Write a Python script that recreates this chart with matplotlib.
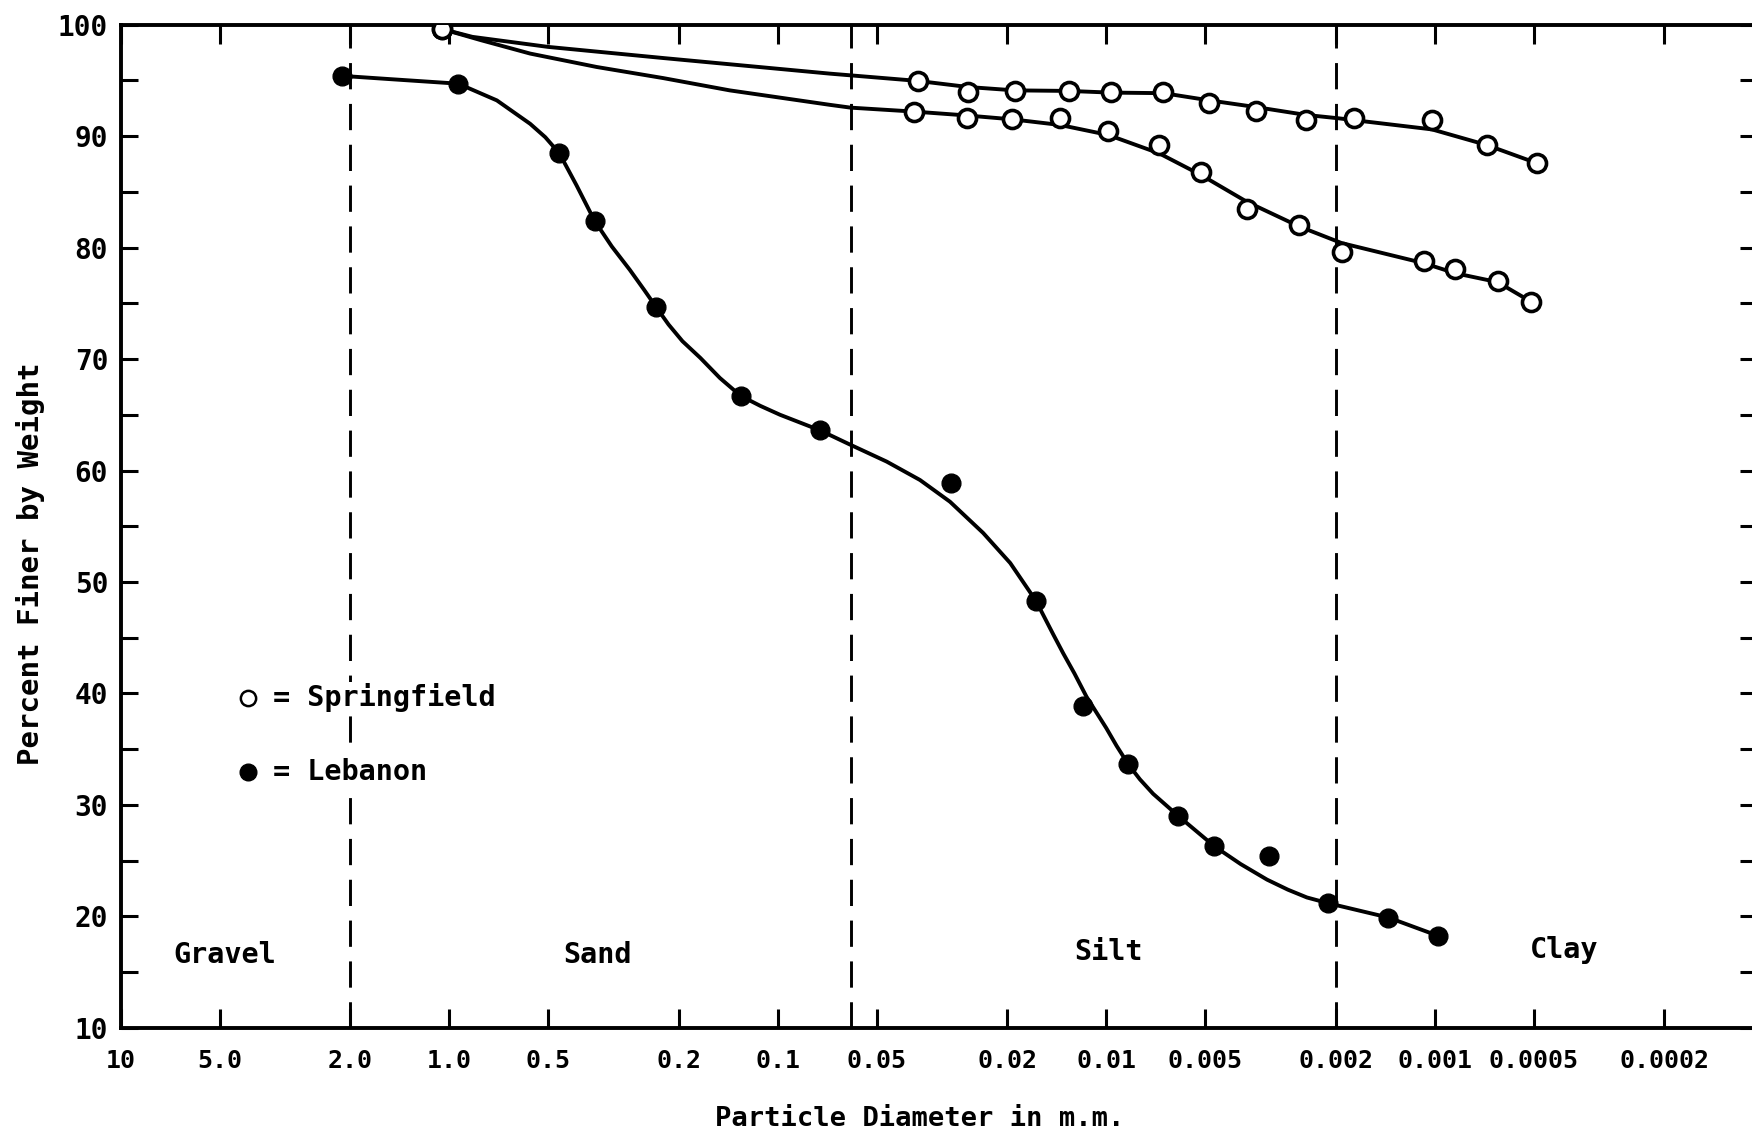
import matplotlib
matplotlib.use("Agg")
import matplotlib.pyplot as plt
from matplotlib.ticker import FixedLocator, FixedFormatter, NullFormatter

plt.rcParams['font.family'] = ['DejaVu Sans Mono', 'DejaVu Sans']
plt.rcParams['font.weight'] = 'bold'

# ---------------- data ----------------
# Lebanon measured points (particle diameter mm, percent finer)
leb_d = [2.12, 0.938, 0.462, 0.361, 0.235, 0.1297, 0.0743, 0.0297, 0.01636,
         0.01178, 0.00857, 0.00603, 0.00469, 0.00319, 0.00212, 0.001384, 0.000975]
leb_p = [95.4, 94.7, 88.45, 82.4, 74.7, 66.7, 63.6, 58.9, 48.3,
         38.9, 33.65, 29.0, 26.3, 25.4, 21.2, 19.9, 18.25]

# Lebanon hand-drawn fitted curve
leb_curve_d = [2.12, 1.5, 0.938, 0.716, 0.567, 0.51, 0.462, 0.41, 0.361, 0.32, 0.282,
               0.255, 0.235, 0.215, 0.195, 0.172, 0.15, 0.1297, 0.113, 0.0984, 0.0743,
               0.061, 0.0466, 0.0369, 0.0299, 0.0237, 0.0196, 0.01636, 0.0145, 0.01352,
               0.0125, 0.01148, 0.01, 0.0093, 0.00857, 0.0079, 0.0072, 0.00603, 0.00469,
               0.0039, 0.00324, 0.0028, 0.00245, 0.00212, 0.001384, 0.000975]
leb_curve_p = [95.4, 95.1, 94.7, 93.2, 91.1, 89.9, 88.45, 85.6, 82.4, 80.1, 78.0,
               76.2, 74.7, 73.1, 71.6, 70.1, 68.3, 66.7, 65.8, 65.0, 63.6,
               62.4, 60.8, 59.15, 57.2, 54.4, 51.7, 48.3, 45.3, 43.6,
               41.8, 39.7, 36.9, 35.3, 33.65, 32.3, 31.0, 29.0, 26.3,
               24.7, 23.3, 22.4, 21.7, 21.2, 19.9, 18.25]

# Springfield measured points (two samples)
spr_upper_d = [1.05, 0.0375, 0.0263, 0.019, 0.013, 0.0097, 0.0067, 0.00485,
               0.0035, 0.00247, 0.00176, 0.00102, 0.000695, 0.000488]
spr_upper_p = [99.6, 94.94, 93.93, 94.07, 94.07, 93.93, 93.93, 92.94,
               92.25, 91.44, 91.6, 91.44, 89.2, 87.56]
spr_lower_d = [1.05, 0.0386, 0.0266, 0.0193, 0.01384, 0.00986, 0.0069, 0.00514,
               0.00373, 0.00259, 0.00192, 0.00108, 0.000867, 0.000644, 0.000509]
spr_lower_p = [99.6, 92.19, 91.59, 91.5, 91.6, 90.46, 89.2, 86.8,
               83.43, 82.0, 79.6, 78.8, 78.05, 77.0, 75.14]

# Springfield fitted curves
spr_upper_curve_d = [1.05, 0.85, 0.5, 0.223, 0.0693, 0.0375, 0.0263, 0.019, 0.013, 0.0097,
                     0.0067, 0.00485, 0.0035, 0.00247, 0.00197, 0.00102, 0.000695, 0.000488]
spr_upper_curve_p = [99.6, 98.9, 98.0, 97.0, 95.6, 94.95, 94.4, 94.1, 94.05, 93.9,
                     93.85, 93.2, 92.6, 91.9, 91.6, 90.6, 89.2, 87.56]
spr_lower_curve_d = [1.05, 0.8, 0.567, 0.356, 0.223, 0.14, 0.0693, 0.060, 0.0386, 0.0266,
                     0.0193, 0.01384, 0.00986, 0.0069, 0.00514, 0.00373, 0.00259,
                     0.00192, 0.00108, 0.000867, 0.000644, 0.000509]
spr_lower_curve_p = [99.6, 98.6, 97.4, 96.2, 95.2, 94.1, 92.8, 92.55, 92.2, 91.85,
                     91.5, 91.0, 90.1, 88.45, 86.5, 84.1, 81.9,
                     80.4, 78.6, 77.7, 76.9, 75.14]

# class boundaries (mm)
boundaries = [2.0, 0.06, 0.002]
class_names = ["Gravel", "Sand", "Silt", "Clay"]
class_x = [4.83, 0.353, 0.00984, 0.000403]
class_y = [16.5, 16.5, 16.8, 17.0]

x_ticks = [10, 5, 2, 1, 0.5, 0.2, 0.1, 0.05, 0.02, 0.01, 0.005, 0.002, 0.001, 0.0005, 0.0002]
x_tick_labels = ["10", "5.0", "2.0", "1.0", "0.5", "0.2", "0.1", "0.05", "0.02", "0.01",
                 "0.005", "0.002", "0.001", "0.0005", "0.0002"]
y_ticks = [10, 20, 30, 40, 50, 60, 70, 80, 90, 100]
y_minor = [15, 25, 35, 45, 55, 65, 75, 85, 95]

# ---------------- figure ----------------
W, H = 1752, 1135
fig = plt.figure(figsize=(W / 100, H / 100), dpi=100, facecolor='white')
left_px, right_px, top_px, bot_px = 120.7, 1757.0, 24.6, 1027.9
ax = fig.add_axes([left_px / W, 1 - bot_px / H, (right_px - left_px) / W, (bot_px - top_px) / H])

ax.set_xscale('log')
ax.set_xlim(10, 1.045e-4)
ax.set_ylim(10, 100)

lw_curve = 2.8
for b in boundaries:
    ax.axvline(b, color='black', lw=2.1, dashes=(9, 5), zorder=1)

ax.plot(leb_curve_d, leb_curve_p, color='black', lw=lw_curve, zorder=2,
        solid_joinstyle='round')
ax.plot(spr_upper_curve_d, spr_upper_curve_p, color='black', lw=lw_curve, zorder=2,
        solid_joinstyle='round')
ax.plot(spr_lower_curve_d, spr_lower_curve_p, color='black', lw=lw_curve, zorder=2,
        solid_joinstyle='round')

ax.plot(leb_d, leb_p, 'o', color='black', ms=13.5, zorder=3, linestyle='none')
ax.plot(spr_upper_d, spr_upper_p, 'o', mfc='white', mec='black', mew=2.6, ms=13,
        zorder=3, linestyle='none')
ax.plot(spr_lower_d, spr_lower_p, 'o', mfc='white', mec='black', mew=2.6, ms=13,
        zorder=3, linestyle='none')

# legend drawn as in the original (marker + text)
ax.plot([4.09], [39.6], 'o', mfc='white', mec='black', mew=1.8, ms=11, zorder=4)
ax.plot([4.09], [33.0], 'o', color='black', ms=12, zorder=4)
ax.text(3.45, 39.6, "= Springfield", fontsize=20.5, fontweight='bold', va='center', ha='left',
        zorder=4, bbox=dict(facecolor='white', edgecolor='none', pad=1))
ax.text(3.45, 33.0, "= Lebanon", fontsize=20.5, fontweight='bold', va='center', ha='left',
        zorder=4, bbox=dict(facecolor='white', edgecolor='none', pad=1))

for name, cx, cy in zip(class_names, class_x, class_y):
    ax.text(cx, cy, name, fontsize=20.5, fontweight='bold', ha='center', va='center')

# ticks
ax.xaxis.set_major_locator(FixedLocator(x_ticks))
ax.xaxis.set_major_formatter(FixedFormatter(x_tick_labels))
ax.xaxis.set_minor_locator(FixedLocator([]))
ax.xaxis.set_minor_formatter(NullFormatter())
ax.yaxis.set_major_locator(FixedLocator(y_ticks))
ax.yaxis.set_minor_locator(FixedLocator(y_minor))

ax.tick_params(axis='x', which='major', direction='in', top=True, bottom=True,
               length=14, width=2.2, labelsize=18, pad=15)
ax.tick_params(axis='y', which='both', direction='in', left=True, right=True,
               length=12, width=2.2, labelsize=20, pad=9)
for lab in ax.get_xticklabels() + ax.get_yticklabels():
    lab.set_fontweight('bold')

for s in ax.spines.values():
    s.set_linewidth(2.8)

ax.set_xlabel("Particle Diameter in m.m.", fontsize=19.5, fontweight='bold')
ax.set_ylabel("Percent Finer by Weight", fontsize=21, fontweight='bold')
ax.xaxis.set_label_coords(0.488, -0.078)
ax.yaxis.set_label_coords(-0.046, 0.463)

fig.savefig("out.png", dpi=100, facecolor='white')
